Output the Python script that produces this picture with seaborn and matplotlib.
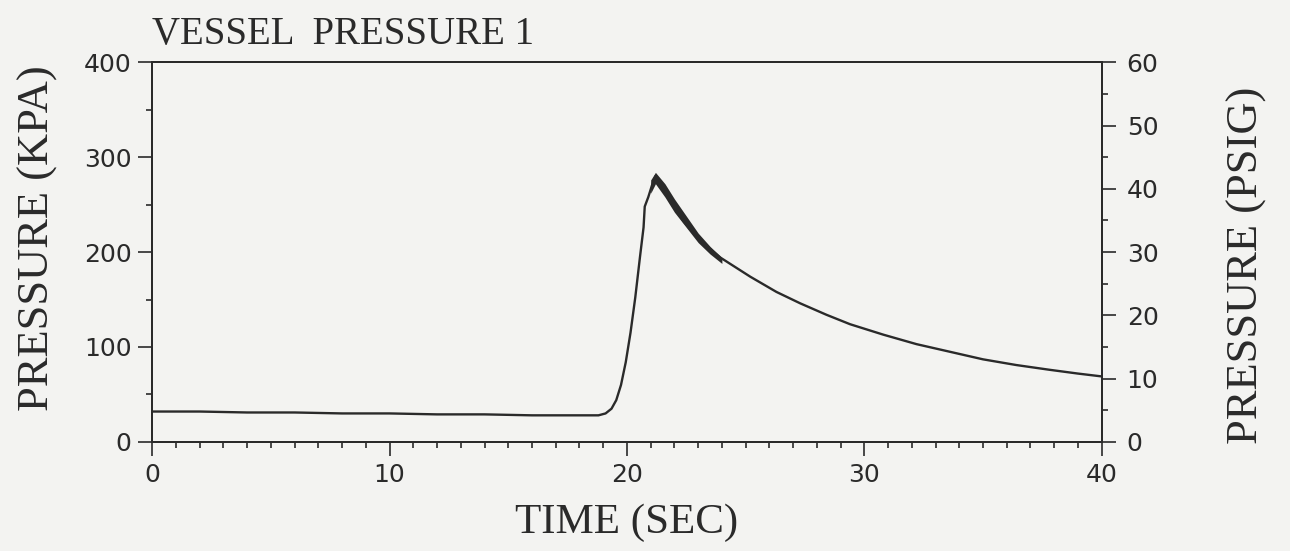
import matplotlib
matplotlib.use("Agg")
import matplotlib.pyplot as plt
import seaborn as sns
import pandas as pd

# ---- data ----
time_s = [0, 2, 4, 6, 8, 10, 12, 14, 16, 18, 18.8, 19.1, 19.35, 19.55, 19.75, 19.95,
          20.15, 20.35, 20.55, 20.7, 20.75, 20.9, 21.05, 21.2, 21.5, 21.9, 22.4,
          23.0, 23.95, 25.2, 26.3, 27.3, 28.4, 29.4, 30.8, 32.2, 33.6, 35.0, 36.4,
          37.8, 39.0, 40.0]
pressure_kpa = [32, 32, 31, 31, 30, 30, 29, 29, 28, 28, 28, 30, 35, 44, 60, 84,
                115, 152, 195, 226, 248, 258, 270, 280, 268, 250, 232,
                214, 194, 174, 158, 146, 134, 124, 113, 103, 95, 87, 81,
                76, 72, 69]
band_time = [21.0, 21.2, 21.6, 22.0, 22.5, 23.0, 23.5, 24.0]
band_low = [262, 272, 258, 242, 226, 210, 198, 188]
band_high = [276, 284, 272, 256, 238, 220, 206, 194]

title = "VESSEL  PRESSURE 1"
xlabel = "TIME (SEC)"
ylabel_left = "PRESSURE (KPA)"
ylabel_right = "PRESSURE (PSIG)"
x_ticks = [0, 10, 20, 30, 40]
yl_ticks = [0, 100, 200, 300, 400]
yr_ticks = [0, 10, 20, 30, 40, 50, 60]

df = pd.DataFrame({"time": time_s, "pressure": pressure_kpa})

sns.set_style("ticks")
plt.rcParams["font.family"] = ["DejaVu Sans"]
ink = "#2a2a2a"
bg = "#f3f3f1"

fig = plt.figure(figsize=(12.9, 5.51), dpi=100, facecolor=bg)
ax = fig.add_axes([0.118, 0.198, 0.736, 0.689])
ax.set_facecolor(bg)

sns.lineplot(data=df, x="time", y="pressure", ax=ax, color=ink, linewidth=1.7)
ax.fill_between(band_time, band_low, band_high, color=ink, linewidth=0)

ax.set_xlim(0, 40)
ax.set_ylim(0, 400)
ax.set_xticks(x_ticks)
ax.set_xticks(range(0, 41, 1), minor=True)
ax.set_yticks(yl_ticks)
ax.set_yticks([50, 150, 250, 350], minor=True)
ax.set_xticklabels([str(v) for v in x_ticks])
ax.set_yticklabels([str(v) for v in yl_ticks])
ax.tick_params(axis="both", which="major", direction="out", length=10, width=1.2,
               colors=ink, labelsize=18, pad=5)
ax.tick_params(axis="both", which="minor", direction="out", length=4, width=1.2, colors=ink)
for s in ax.spines.values():
    s.set_visible(True)
    s.set_color(ink)
    s.set_linewidth(1.4)

serif = ["Liberation Serif", "DejaVu Serif"]
ax.set_xlabel(xlabel, fontsize=31, family=serif, color=ink, labelpad=12)
ax.set_ylabel(ylabel_left, fontsize=32, family=serif, color=ink)
ax.yaxis.set_label_coords(-0.099, 0.537)
ax.set_title(title, fontsize=28, family=serif, color=ink, loc="left", pad=13)

ax2 = ax.twinx()
ax2.set_ylim(0, 60)
ax2.set_yticks(yr_ticks)
ax2.set_yticks(range(5, 60, 10), minor=True)
ax2.set_yticklabels([str(v) for v in yr_ticks])
ax2.tick_params(axis="y", which="major", direction="out", length=10, width=1.2,
                colors=ink, labelsize=18, pad=8)
ax2.tick_params(axis="y", which="minor", direction="out", length=4, width=1.2, colors=ink)
for s in ax2.spines.values():
    s.set_color(ink)
    s.set_linewidth(1.4)
ax2.set_ylabel(ylabel_right, fontsize=32, family=serif, color=ink)
ax2.yaxis.set_label_coords(1.1316, 0.466)

fig.savefig("out.png", dpi=100, facecolor=bg)
